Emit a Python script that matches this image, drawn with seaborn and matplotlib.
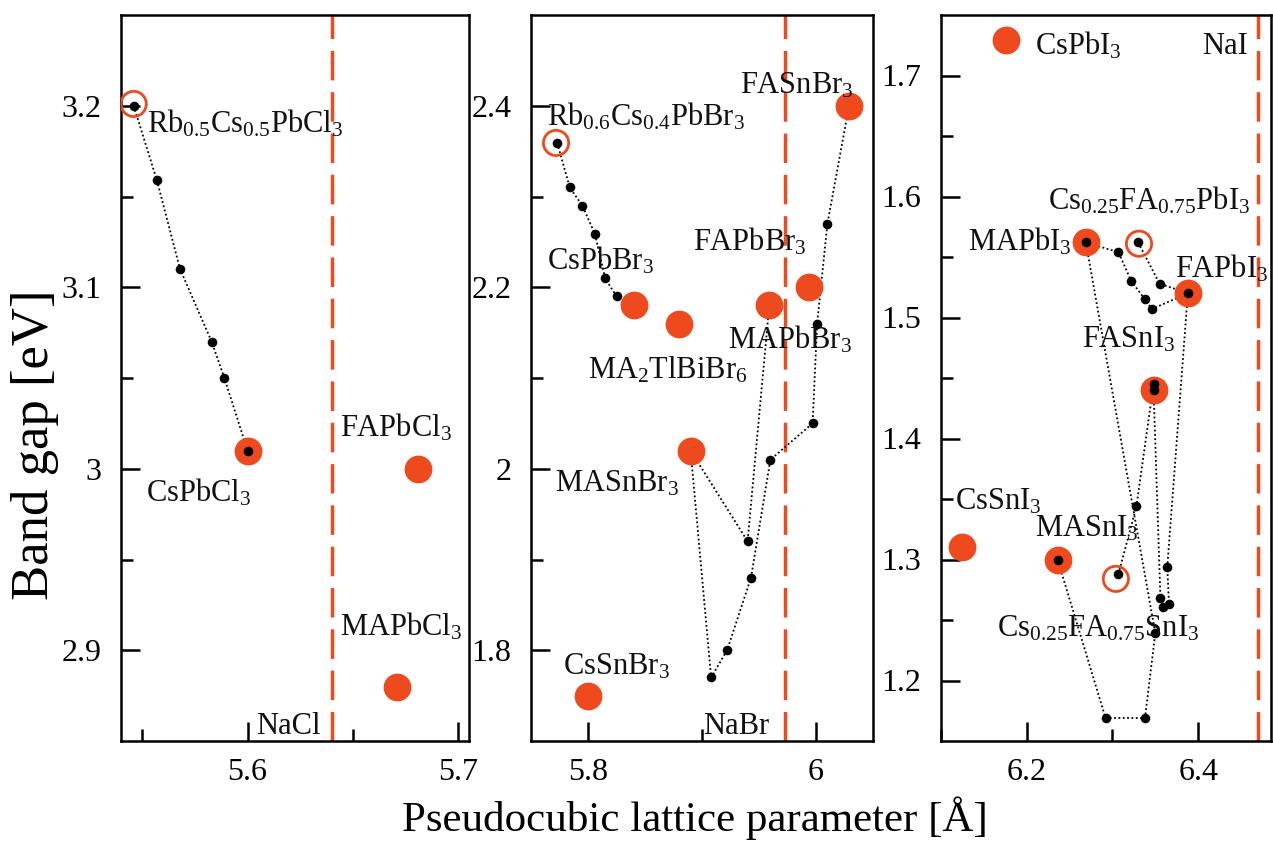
import matplotlib
matplotlib.use("Agg")
import matplotlib.pyplot as plt
import seaborn as sns
from matplotlib.ticker import FixedLocator, FixedFormatter

# ---------------- data ----------------
# Panel 1: chlorides
cl_pure_x = [5.600, 5.681, 5.671]
cl_pure_y = [3.010, 3.000, 2.880]
cl_chain1_x = [5.546, 5.557, 5.568, 5.583, 5.589, 5.600]
cl_chain1_y = [3.200, 3.159, 3.110, 3.070, 3.050, 3.010]
cl_black_x = [5.546, 5.557, 5.568, 5.583, 5.589, 5.600]
cl_black_y = [3.200, 3.159, 3.110, 3.070, 3.050, 3.010]
cl_open_x = [5.546]
cl_open_y = [3.201]
nacl_a = 5.64
cl_labels = ['Rb$_{0.5}$Cs$_{0.5}$PbCl$_3$', 'CsPbCl$_3$', 'FAPbCl$_3$', 'MAPbCl$_3$', 'NaCl']
cl_lab_x = [5.5522, 5.552, 5.6438, 5.6438, 5.6043]
cl_lab_y = [3.185, 2.982, 3.0176, 2.908, 2.854]

# Panel 2: bromides
br_pure_x = [5.840, 5.880, 5.959, 5.994, 6.029, 5.890, 5.800]
br_pure_y = [2.180, 2.160, 2.180, 2.200, 2.400, 2.020, 1.750]
br_chain1_x = [5.773, 5.784, 5.795, 5.806, 5.815, 5.825, 5.840]
br_chain1_y = [2.359, 2.310, 2.290, 2.259, 2.210, 2.190, 2.180]
br_chain2_x = [6.029, 6.010, 6.001, 5.997, 5.960, 5.943, 5.922, 5.908, 5.890]
br_chain2_y = [2.400, 2.270, 2.160, 2.050, 2.010, 1.880, 1.800, 1.770, 2.020]
br_chain3_x = [5.890, 5.940, 5.959]
br_chain3_y = [2.020, 1.920, 2.180]
br_black_x = [5.773, 5.784, 5.795, 5.806, 5.815, 5.825,
              6.010, 6.001, 5.997, 5.960, 5.943, 5.922, 5.908, 5.940]
br_black_y = [2.359, 2.310, 2.290, 2.259, 2.210, 2.190,
              2.270, 2.160, 2.050, 2.010, 1.880, 1.800, 1.770, 1.920]
br_open_x = [5.772]
br_open_y = [2.359]
nabr_a = 5.973
br_labels = ['Rb$_{0.6}$Cs$_{0.4}$PbBr$_3$', 'FASnBr$_3$', 'CsPbBr$_3$', 'FAPbBr$_3$',
             'MAPbBr$_3$', 'MA$_2$TlBiBr$_6$', 'MASnBr$_3$', 'CsSnBr$_3$', 'NaBr']
br_lab_x = [5.7643, 5.9334, 5.7643, 5.8922, 5.9229, 5.8003, 5.7714, 5.7784, 5.901]
br_lab_y = [2.3786, 2.4135, 2.2198, 2.241, 2.1329, 2.0998, 1.975, 1.7733, 1.7072]

# Panel 3: iodides
i_pure_x = [6.176, 6.269, 6.388, 6.348, 6.125, 6.236]
i_pure_y = [1.729, 1.562, 1.520, 1.440, 1.310, 1.300]
i_chain1_x = [6.269, 6.307, 6.322, 6.338, 6.346, 6.388]
i_chain1_y = [1.562, 1.554, 1.530, 1.515, 1.507, 1.520]
i_chain2_x = [6.330, 6.355, 6.388]
i_chain2_y = [1.562, 1.528, 1.520]
i_chain3_x = [6.269, 6.350, 6.338, 6.292, 6.236]
i_chain3_y = [1.562, 1.239, 1.169, 1.169, 1.300]
i_chain4_x = [6.388, 6.364, 6.366, 6.359, 6.356, 6.348]
i_chain4_y = [1.520, 1.294, 1.263, 1.261, 1.268, 1.440]
i_chain5_x = [6.307, 6.328, 6.348]
i_chain5_y = [1.288, 1.344, 1.445]
i_black_x = [6.269, 6.307, 6.322, 6.338, 6.346, 6.388, 6.330, 6.355,
             6.350, 6.338, 6.292, 6.236, 6.364, 6.366, 6.359, 6.356,
             6.348, 6.348, 6.307, 6.328]
i_black_y = [1.562, 1.554, 1.530, 1.515, 1.507, 1.520, 1.562, 1.528,
             1.239, 1.169, 1.169, 1.300, 1.294, 1.263, 1.261, 1.268,
             1.440, 1.445, 1.288, 1.344]
i_open_x = [6.331, 6.304]
i_open_y = [1.561, 1.284]
nai_a = 6.47
i_labels = ['CsPbI$_3$', 'NaI', 'Cs$_{0.25}$FA$_{0.75}$PbI$_3$', 'MAPbI$_3$', 'FAPbI$_3$',
            'FASnI$_3$', 'CsSnI$_3$', 'MASnI$_3$', 'Cs$_{0.25}$FA$_{0.75}$SnI$_3$']
i_lab_x = [6.2097, 6.4044, 6.2248, 6.1316, 6.3728, 6.2645, 6.1164, 6.2097, 6.1654]
i_lab_y = [1.7177, 1.7177, 1.5895, 1.555, 1.533, 1.4751, 1.3414, 1.3193, 1.2366]

# ---------------- style ----------------
sns.set_theme(style="ticks")
plt.rcParams['font.family'] = ['Liberation Serif', 'DejaVu Serif']
plt.rcParams['mathtext.fontset'] = 'custom'
plt.rcParams['mathtext.rm'] = 'Liberation Serif'
plt.rcParams['mathtext.it'] = 'Liberation Serif:italic'
plt.rcParams['mathtext.bf'] = 'Liberation Serif:bold'
plt.rcParams['axes.linewidth'] = 1.8
plt.rcParams['axes.edgecolor'] = 'black'
plt.rcParams['text.color'] = 'black'
plt.rcParams['axes.labelcolor'] = 'black'
plt.rcParams['xtick.color'] = 'black'
plt.rcParams['ytick.color'] = 'black'

ORANGE = '#EE4A1D'
W, H = 1273, 844
TOP, BOT = 15, 741

fig = plt.figure(figsize=(W / 100, H / 100), dpi=100)
fig.patch.set_facecolor('white')


def add_ax(lpx, rpx):
    return fig.add_axes([lpx / W, (H - BOT) / H, (rpx - lpx) / W, (BOT - TOP) / H])


def draw_panel(ax, chains, bx, by, px, py, ox, oy, na, labels, lx, ly):
    ax.axvline(na, color=ORANGE, lw=2.5, ls=(0, (8.5, 3.4)), zorder=1)
    for cx, cy in chains:
        sns.lineplot(x=cx, y=cy, sort=False, estimator=None, ax=ax, color='black',
                     lw=1.3, linestyle=(0, (1, 1.4)), zorder=2, legend=False)
    sns.scatterplot(x=px, y=py, ax=ax, s=400, color=ORANGE, linewidth=0, zorder=3, legend=False)
    sns.scatterplot(x=bx, y=by, ax=ax, s=48, color='black', linewidth=0, zorder=4, legend=False)
    sns.scatterplot(x=ox, y=oy, ax=ax, s=330, color=ORANGE, linewidth=2, zorder=5, legend=False)
    coll = ax.collections[-1]
    coll.set_facecolor('none')
    coll.set_edgecolor(ORANGE)
    for t, x, y in zip(labels, lx, ly):
        ax.text(x, y, t, fontsize=22, ha='left', va='baseline', zorder=6, color='#111111')


def style_axis(ax, xlim, ylim, xmaj, xlab, xmin, ymaj, ylab, ymin):
    ax.set_xlim(*xlim)
    ax.set_ylim(*ylim)
    ax.xaxis.set_major_locator(FixedLocator(xmaj))
    ax.xaxis.set_major_formatter(FixedFormatter(xlab))
    ax.xaxis.set_minor_locator(FixedLocator(xmin))
    ax.yaxis.set_major_locator(FixedLocator(ymaj))
    ax.yaxis.set_major_formatter(FixedFormatter(ylab))
    ax.yaxis.set_minor_locator(FixedLocator(ymin))
    ax.tick_params(which='major', direction='in', length=14, width=1.8, labelsize=23,
                   colors='black', top=False, right=False)
    ax.tick_params(which='minor', direction='in', length=8.5, width=1.8, top=False, right=False)
    ax.tick_params(axis='y', which='major', pad=14)
    ax.tick_params(axis='x', which='major', pad=12)
    ax.set_xlabel('')
    ax.set_ylabel('')
    for sp in ax.spines.values():
        sp.set_visible(True)
        sp.set_linewidth(1.8)
        sp.set_color('black')
    ax.set_facecolor('white')
    ax.grid(False)


ax1 = add_ax(121, 469)
draw_panel(ax1, [(cl_chain1_x, cl_chain1_y)], cl_black_x, cl_black_y,
           cl_pure_x, cl_pure_y, cl_open_x, cl_open_y, nacl_a, cl_labels, cl_lab_x, cl_lab_y)
style_axis(ax1, (5.54, 5.705), (2.85, 3.25),
           [5.6, nacl_a, 5.7], ['5.6', '', '5.7'], [5.55, 5.65],
           [2.9, 3.0, 3.1, 3.2], ['2.9', '3', '3.1', '3.2'], [2.95, 3.05, 3.15])

ax2 = add_ax(531, 873)
draw_panel(ax2, [(br_chain1_x, br_chain1_y), (br_chain2_x, br_chain2_y), (br_chain3_x, br_chain3_y)],
           br_black_x, br_black_y, br_pure_x, br_pure_y, br_open_x, br_open_y, nabr_a,
           br_labels, br_lab_x, br_lab_y)
style_axis(ax2, (5.75, 6.05), (1.7, 2.5),
           [5.8, nabr_a, 6.0], ['5.8', '', '6'], [5.9],
           [1.8, 2.0, 2.2, 2.4], ['1.8', '2', '2.2', '2.4'], [1.9, 2.1, 2.3])

ax3 = add_ax(941, 1271)
draw_panel(ax3, [(i_chain1_x, i_chain1_y), (i_chain2_x, i_chain2_y), (i_chain3_x, i_chain3_y),
                 (i_chain4_x, i_chain4_y), (i_chain5_x, i_chain5_y)],
           i_black_x, i_black_y, i_pure_x, i_pure_y, i_open_x, i_open_y, nai_a,
           i_labels, i_lab_x, i_lab_y)
style_axis(ax3, (6.1, 6.485), (1.15, 1.75),
           [6.2, 6.4, nai_a], ['6.2', '6.4', ''], [6.1, 6.3],
           [1.2, 1.3, 1.4, 1.5, 1.6, 1.7], ['1.2', '1.3', '1.4', '1.5', '1.6', '1.7'],
           [1.25, 1.35, 1.45, 1.55, 1.65])

fig.text(35 / W, 1 - 445 / H, 'Band gap [eV]', rotation=90, fontsize=38,
         ha='center', va='center')
fig.text(695 / W, 1 - 818 / H, 'Pseudocubic lattice parameter [Å]', fontsize=31,
         ha='center', va='center')

fig.savefig('out.png', dpi=100, facecolor='white')
